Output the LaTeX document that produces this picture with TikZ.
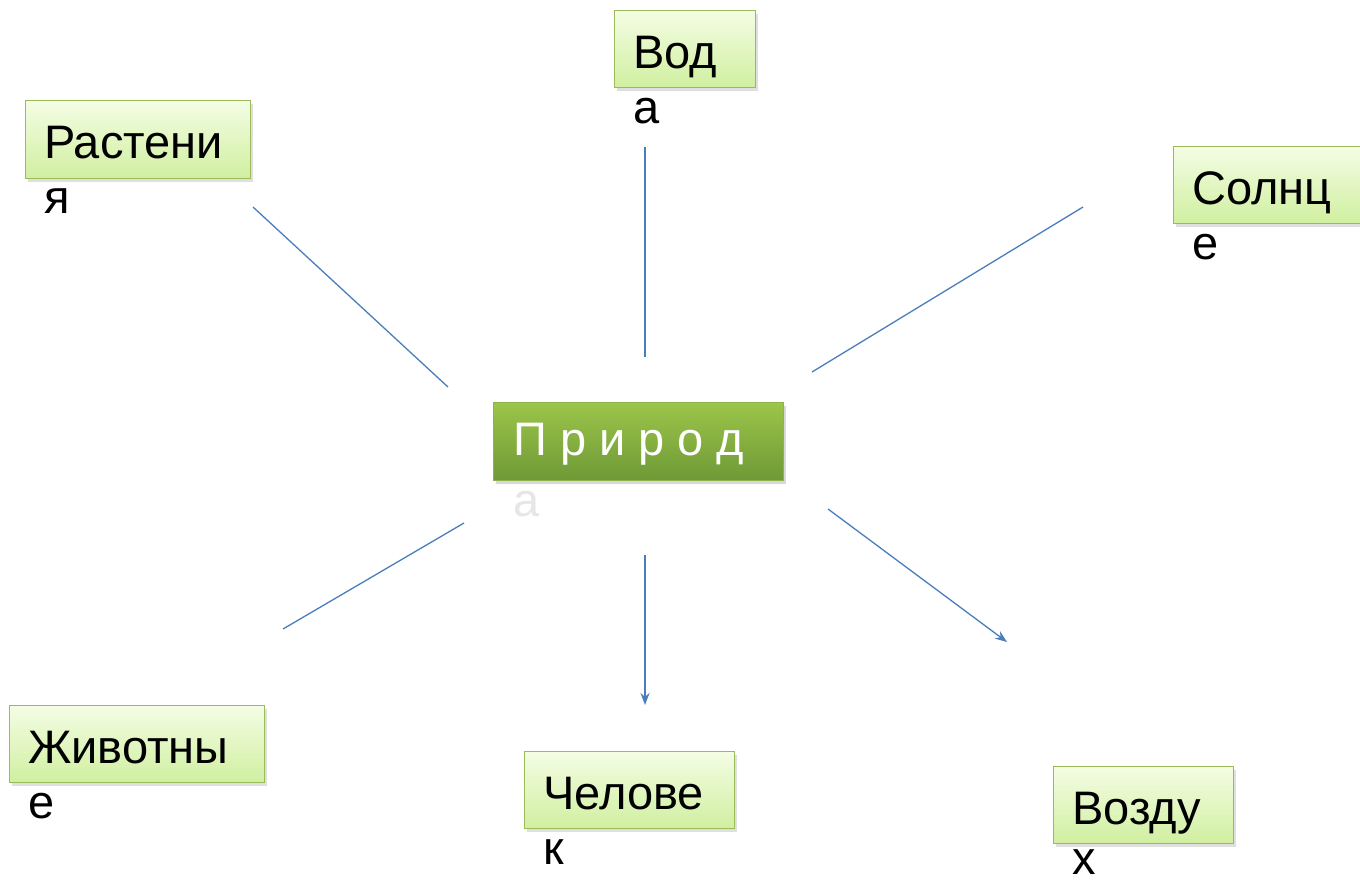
\documentclass[tikz,border=0pt]{standalone}
\usepackage{fontspec}
\setmainfont{Liberation Sans}
\usetikzlibrary{shadows,arrows.meta}
\definecolor{lnblue}{HTML}{4A7EBB}
\definecolor{lgtop}{HTML}{F4FDE4}
\definecolor{lgbot}{HTML}{D0EFA0}
\definecolor{lgborder}{HTML}{9BBB59}
\definecolor{dgtop}{HTML}{9CC54A}
\definecolor{dgbot}{HTML}{6E9936}
\definecolor{dgborder}{HTML}{8DB34A}
\definecolor{ghost}{HTML}{E6E6E6}
\begin{document}
\begin{tikzpicture}[x=1pt,y=-1pt,
  leaf/.style={draw=lgborder, line width=1.2pt, top color=lgtop, bottom color=lgbot,
    inner sep=0pt, anchor=north west,
    drop shadow={shadow xshift=2pt, shadow yshift=-3pt, opacity=0.25}},
  hub/.style={draw=dgborder, line width=1.2pt, top color=dgtop, bottom color=dgbot,
    inner sep=0pt, anchor=north west,
    drop shadow={shadow xshift=2pt, shadow yshift=-3pt, opacity=0.3}},
  lbl/.style={font=\fontsize{47}{55}\selectfont, inner sep=0pt, anchor=base west, text=black},
  link/.style={draw=lnblue, line width=1.3pt},
  tip/.style={-{Stealth[length=12pt,width=9pt]}}]
\useasboundingbox (0,0) rectangle (1360,884);
\fill[white] (0,0) rectangle (1360,884);
% boxes
\node[leaf, minimum width=141pt, minimum height=77pt] (vod) at (614,10) {};
\node[leaf, minimum width=225pt, minimum height=78pt] (rast) at (25,100) {};
\node[leaf, minimum width=200pt, minimum height=77pt] (soln) at (1173,146) {};
\node[hub,  minimum width=290pt, minimum height=78pt] (prir) at (493,402) {};
\node[leaf, minimum width=255pt, minimum height=77pt] (zhiv) at (9,705) {};
\node[leaf, minimum width=210pt, minimum height=77pt] (chel) at (524,751) {};
\node[leaf, minimum width=180pt, minimum height=77pt] (vozd) at (1053,766) {};
% texts
\node[lbl] (vod1) at (633,68) {Вод};
\node[lbl] (vod2) at (633,123) {а};
\node[lbl] (rast1) at (44,158) {Растени};
\node[lbl] (rast2) at (44,213) {я};
\node[lbl] (soln1) at (1192,204) {Солнц};
\node[lbl] (soln2) at (1192,259) {е};
\node[lbl, text=white] (prir1) at (513,455) {П р и р о д};
\node[lbl, text=ghost] (prir2) at (513,516) {а};
\node[lbl] (zhiv1) at (28,763) {Животны};
\node[lbl] (zhiv2) at (28,818) {е};
\node[lbl] (chel1) at (543,809) {Челове};
\node[lbl] (chel2) at (543,864) {к};
\node[lbl] (vozd1) at (1072,824) {Возду};
\node[lbl] (vozd2) at (1072,874) {х};
% connector end points
\coordinate (r1) at (253,207); \coordinate (r2) at (448,387);
\coordinate (v1) at (645,147); \coordinate (v2) at (645,357);
\coordinate (s1) at (1083,207); \coordinate (s2) at (812,372);
\coordinate (z1) at (464,523); \coordinate (z2) at (283,629);
\coordinate (c1) at (645,555); \coordinate (c2) at (645,705);
\coordinate (a1) at (828,509); \coordinate (a2) at (1007,642);
\draw[link] (r1) -- (r2);
\draw[link] (v1) -- (v2);
\draw[link] (s1) -- (s2);
\draw[link] (z1) -- (z2);
\draw[link, tip] (c1) -- (c2);
\draw[link, tip] (a1) -- (a2);
\end{tikzpicture}
\end{document}
